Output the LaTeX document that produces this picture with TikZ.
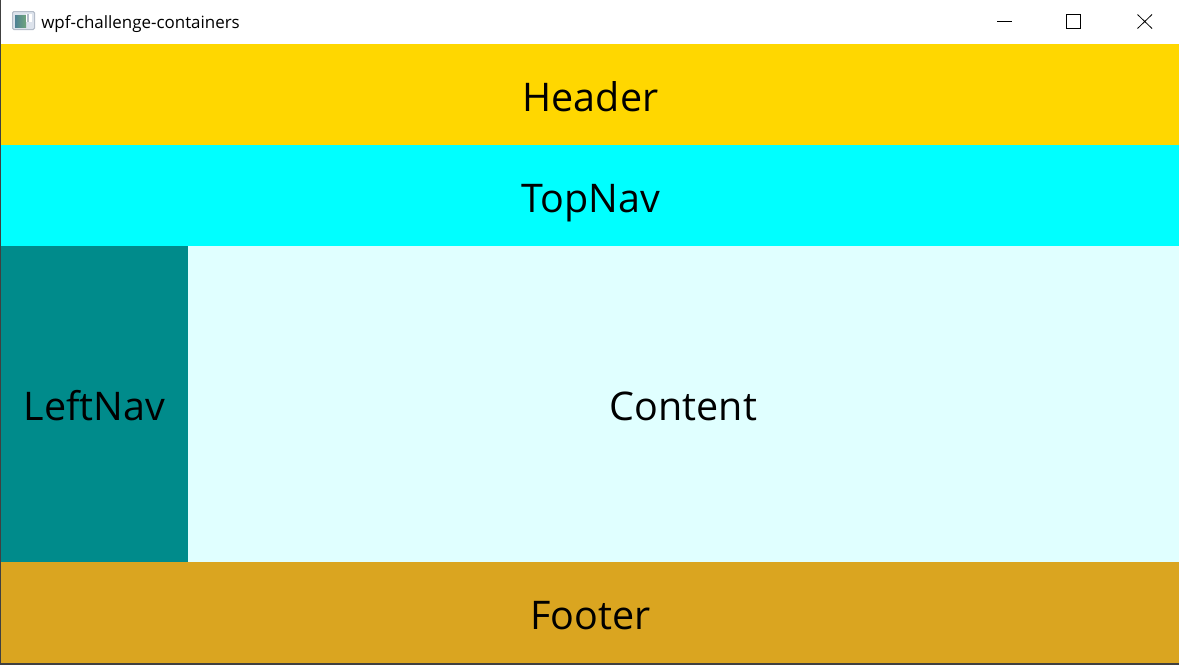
\documentclass[tikz,border=0pt]{standalone}
\usepackage{fontspec}
\setmainfont{Open Sans}
\definecolor{hdr}{HTML}{FFD700}
\definecolor{topn}{HTML}{00FFFF}
\definecolor{leftn}{HTML}{008B8B}
\definecolor{cont}{HTML}{E0FFFF}
\definecolor{foot}{HTML}{DAA520}
\definecolor{edge}{HTML}{404040}
\definecolor{iconframe}{HTML}{B4BCC8}
\definecolor{iconfill}{HTML}{DDE3EC}
\definecolor{iconleft}{HTML}{4F8294}
\definecolor{iconright}{HTML}{6FA57C}
\tikzset{
  pane/.style={inner sep=0pt,outer sep=0pt,anchor=base,font=\fontsize{29.6}{34}\selectfont,text=black},
  wbtn/.style={draw=black,line width=0.75pt},
}
\begin{document}
\begin{tikzpicture}[x=0.75pt,y=-0.75pt]
\useasboundingbox (0,0) rectangle (1179,665);
\fill[white] (0,0) rectangle (1179,44);
\fill[edge] (0,0) rectangle (1,665);
\fill[edge] (0,663) rectangle (1179,665);
\fill[hdr] (1,44) rectangle (1179,145);
\fill[topn] (1,145) rectangle (1179,246);
\fill[leftn] (1,246) rectangle (188,562);
\fill[cont] (188,246) rectangle (1179,562);
\fill[foot] (1,562) rectangle (1179,663);
\node[pane] (header) at (590.5,111) {Header};
\node[pane] (topnav) at (590.5,212) {TopNav};
\node[pane] (leftnav) at (94.5,420) {LeftNav};
\node[pane] (content) at (683.5,420) {Content};
\node[pane] (footer) at (590.5,629) {Footer};
% title bar
\node[inner sep=0pt,anchor=base west,font=\fontsize{12.7}{15}\selectfont] (title) at (41,28) {wpf-challenge-containers};
\draw[rounded corners=1pt,draw=iconframe,fill=iconfill,line width=0.75pt] (12.5,11.5) rectangle (34.5,29.5);
\shade[left color=iconleft,right color=iconright] (15,15) rectangle (26,27);
\fill[white] (26,14) rectangle (32,22);
\fill[iconframe] (27,14) rectangle (29,22);
% window buttons
\draw[wbtn] (997,21.5) -- (1012,21.5);
\draw[wbtn] (1066.5,14.5) rectangle (1080.5,28.5);
\draw[wbtn,line width=0.6pt] (1137.5,14.5) -- (1152,28.5) (1152,14.5) -- (1137.5,28.5);
\end{tikzpicture}
\end{document}
